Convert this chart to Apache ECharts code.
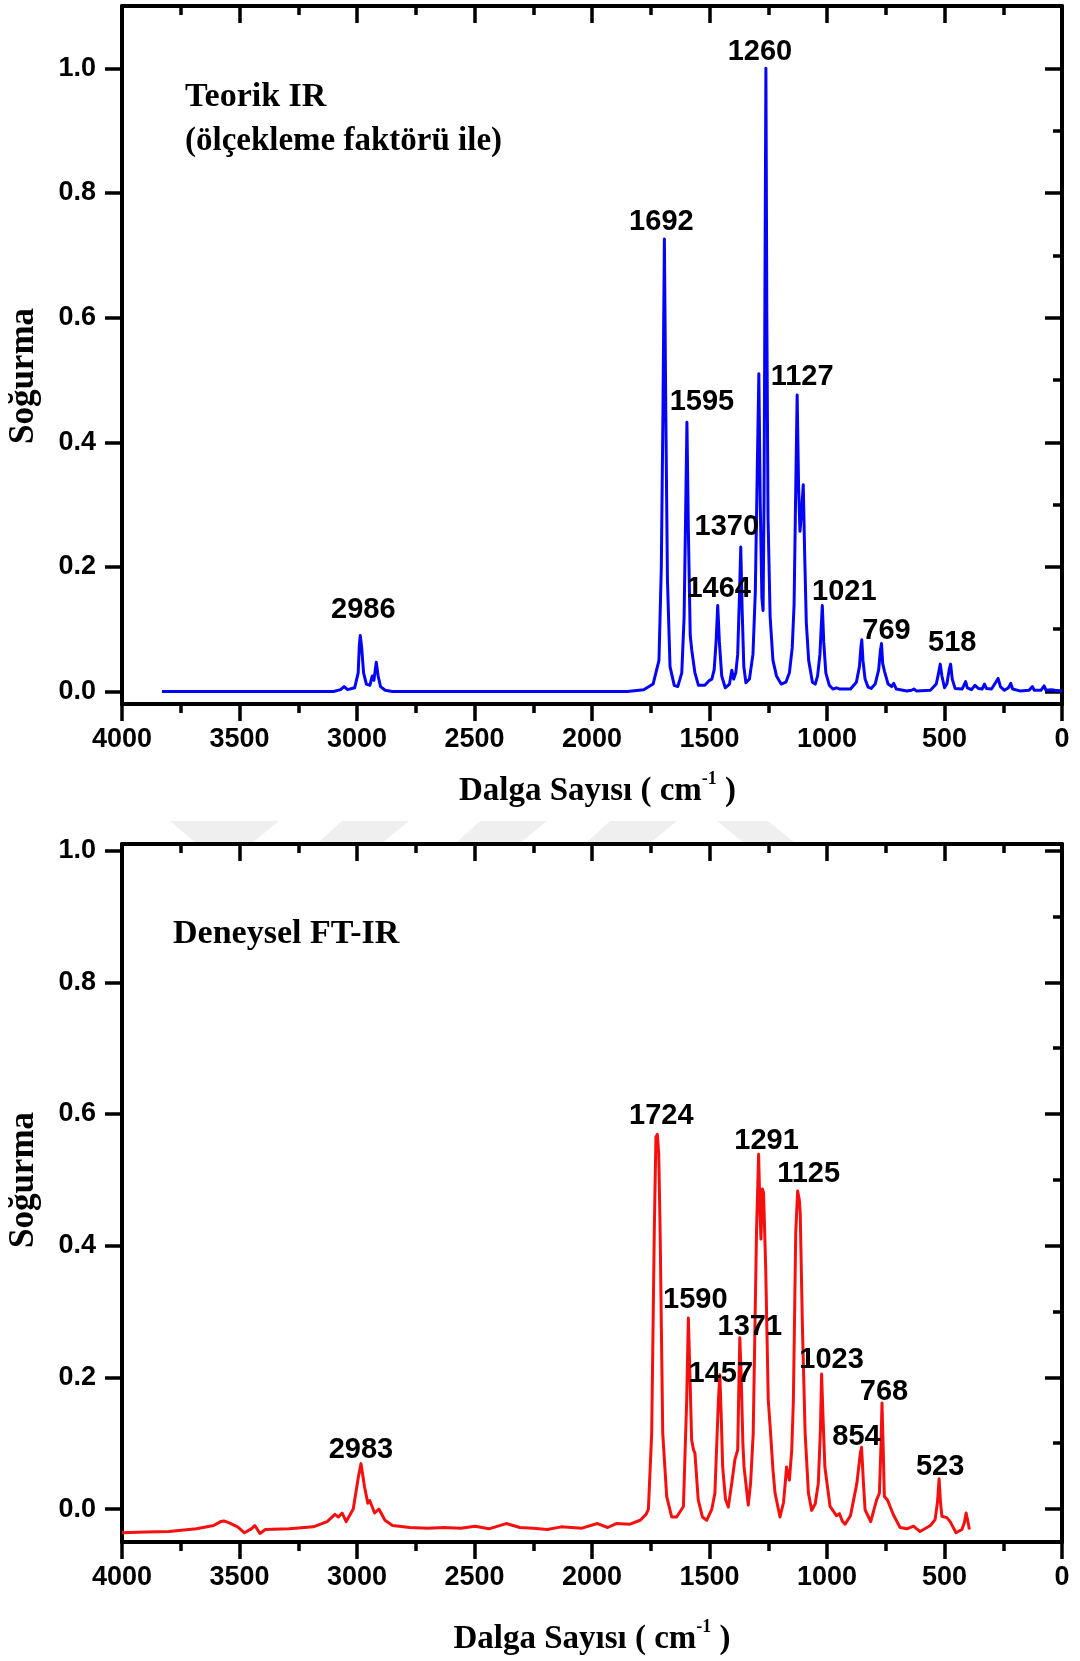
<!DOCTYPE html>
<html>
<head>
<meta charset="utf-8">
<script src="https://cdn.jsdelivr.net/npm/echarts@6/dist/echarts.min.js"></script>
<style>
  html, body { margin: 0; padding: 0; background: #ffffff; }
  #chart { width: 1080px; height: 1661px; }
</style>
</head>
<body>
<div id="chart"></div>
<script>
// ---------------- DATA ----------------
// Theoretical IR spectrum (wavenumber cm-1, absorbance)
const teorikSpectrum = [
  [3830,0.0],[3100,0.0],[3070,0.003],[3055,0.008],[3040,0.003],[3010,0.006],[2995,0.03],[2990,0.075],
  [2986,0.09],[2980,0.07],[2972,0.03],[2960,0.012],[2945,0.01],[2935,0.025],[2928,0.018],[2918,0.047],
  [2910,0.025],[2900,0.008],[2880,0.002],[2850,0.0],[1850,0.0],[1780,0.003],[1740,0.012],[1715,0.05],
  [1705,0.2],[1698,0.45],[1692,0.726],[1686,0.45],[1679,0.18],[1668,0.04],[1650,0.01],[1635,0.008],
  [1618,0.03],[1608,0.12],[1601,0.3],[1596,0.432],[1590,0.26],[1582,0.09],[1575,0.065],[1569,0.068],
  [1562,0.03],[1547,0.01],[1520,0.01],[1500,0.018],[1490,0.02],[1480,0.035],[1472,0.08],[1465,0.138],
  [1458,0.08],[1448,0.025],[1433,0.006],[1415,0.012],[1405,0.034],[1397,0.02],[1388,0.03],[1380,0.06],
  [1372,0.16],[1367,0.232],[1361,0.13],[1354,0.04],[1345,0.014],[1330,0.02],[1315,0.06],[1305,0.16],
  [1297,0.35],[1290,0.51],[1284,0.3],[1277,0.15],[1272,0.13],[1268,0.3],[1264,0.65],[1260,1.0],
  [1256,0.6],[1251,0.28],[1242,0.12],[1230,0.05],[1215,0.025],[1195,0.012],[1175,0.015],[1160,0.03],
  [1148,0.07],[1140,0.14],[1134,0.3],[1127,0.476],[1121,0.33],[1115,0.257],[1108,0.29],[1101,0.332],
  [1095,0.22],[1088,0.11],[1078,0.05],[1062,0.015],[1050,0.012],[1040,0.025],[1030,0.06],[1025,0.1],
  [1020,0.138],[1014,0.08],[1005,0.03],[990,0.01],[975,0.004],[960,0.006],[953,0.009],[945,0.004],
  [900,0.004],[875,0.015],[862,0.04],[856,0.07],[852,0.083],[847,0.05],[838,0.02],[825,0.007],
  [812,0.005],[795,0.012],[780,0.035],[773,0.065],[768,0.077],[763,0.045],[755,0.032],[749,0.03],
  [740,0.012],[725,0.008],[716,0.013],[705,0.004],[660,0.001],[640,0.002],[630,0.004],[620,0.001],
  [560,0.002],[535,0.012],[525,0.03],[518,0.044],[511,0.025],[500,0.006],[490,0.012],[480,0.035],
  [474,0.044],[467,0.02],[455,0.005],[425,0.004],[415,0.012],[410,0.016],[403,0.006],[385,0.003],
  [370,0.01],[363,0.013],[356,0.005],[340,0.004],[330,0.012],[322,0.005],[300,0.004],[285,0.013],
  [272,0.021],[262,0.008],[245,0.002],[228,0.006],[218,0.013],[210,0.004],[180,0.001],[140,0.002],
  [126,0.008],[118,0.002],[90,0.002],[76,0.009],[68,0.002],[45,0.003],[38,0.005],[30,0.002],[0,0.001]
];
// Experimental FT-IR spectrum (wavenumber cm-1, absorbance)
const deneyselSpectrum = [
  [4000,-0.036],[3900,-0.035],[3800,-0.034],[3683,-0.03],[3610,-0.025],[3580,-0.019],[3566,-0.018],
  [3544,-0.021],[3508,-0.027],[3479,-0.036],[3450,-0.03],[3435,-0.025],[3413,-0.037],[3390,-0.031],
  [3288,-0.03],[3186,-0.027],[3127,-0.019],[3094,-0.008],[3079,-0.012],[3063,-0.006],[3046,-0.019],
  [3016,0.0],[2994,0.049],[2983,0.069],[2968,0.034],[2954,0.009],[2946,0.013],[2939,0.011],[2925,-0.006],
  [2907,0.0],[2881,-0.017],[2849,-0.025],[2775,-0.028],[2700,-0.029],[2629,-0.028],[2560,-0.029],
  [2497,-0.026],[2439,-0.03],[2365,-0.022],[2307,-0.028],[2250,-0.029],[2190,-0.031],[2131,-0.027],
  [2043,-0.029],[1977,-0.022],[1933,-0.028],[1897,-0.022],[1838,-0.023],[1795,-0.017],[1770,-0.008],
  [1760,0.0],[1746,0.115],[1735,0.42],[1728,0.565],[1722,0.569],[1716,0.54],[1710,0.42],[1699,0.115],
  [1682,0.019],[1661,-0.012],[1640,-0.012],[1611,0.004],[1597,0.166],[1590,0.29],[1583,0.2],[1576,0.105],
  [1568,0.09],[1562,0.085],[1548,0.014],[1530,-0.012],[1512,-0.017],[1490,0.0],[1477,0.024],[1462,0.166],
  [1456,0.204],[1450,0.14],[1444,0.064],[1432,0.015],[1420,0.003],[1405,0.04],[1392,0.075],[1380,0.09],
  [1376,0.17],[1371,0.26],[1365,0.2],[1358,0.1],[1353,0.064],[1335,0.006],[1325,0.04],[1314,0.115],
  [1300,0.42],[1291,0.539],[1285,0.45],[1281,0.41],[1275,0.486],[1270,0.48],[1261,0.369],[1250,0.166],
  [1240,0.115],[1230,0.06],[1221,0.024],[1200,-0.012],[1185,0.01],[1179,0.034],[1172,0.064],[1165,0.05],
  [1160,0.044],[1150,0.09],[1143,0.166],[1133,0.42],[1125,0.483],[1118,0.47],[1114,0.45],[1104,0.267],
  [1093,0.115],[1079,0.024],[1065,-0.002],[1050,0.008],[1037,0.039],[1028,0.12],[1023,0.205],[1017,0.14],
  [1009,0.064],[987,0.004],[960,-0.01],[947,-0.007],[935,-0.018],[923,-0.023],[900,-0.01],[873,0.039],
  [858,0.085],[853,0.094],[845,0.04],[838,-0.001],[814,-0.019],[789,0.014],[777,0.024],[770,0.1],
  [766,0.161],[760,0.08],[756,0.019],[743,0.014],[717,-0.009],[689,-0.028],[660,-0.03],[632,-0.026],
  [618,-0.03],[604,-0.034],[560,-0.025],[540,-0.016],[530,0.01],[523,0.046],[517,0.01],[511,-0.011],
  [490,-0.013],[476,-0.019],[451,-0.036],[426,-0.031],[415,-0.02],[408,-0.006],[400,-0.02],[394,-0.031]
];
// Annotated peaks: label, peak position, peak absorbance
const teorikPeakLabels = ['2986','1692','1595','1464','1370','1260','1127','1021','769','518'];
const teorikPeakWn     = [2986, 1692, 1596, 1465, 1367, 1260, 1127, 1020, 768, 518];
const teorikPeakAbs    = [0.09, 0.726, 0.432, 0.138, 0.232, 1.0, 0.476, 0.138, 0.077, 0.044];
const deneyselPeakLabels = ['2983','1724','1590','1457','1371','1291','1125','1023','854','768','523'];
const deneyselPeakWn     = [2983, 1722, 1590, 1456, 1371, 1291, 1125, 1023, 853, 766, 523];
const deneyselPeakAbs    = [0.069, 0.569, 0.29, 0.204, 0.26, 0.539, 0.483, 0.205, 0.094, 0.161, 0.046];
// Axis ticks
const xTickStep = 500;
const yMajorTicks = [0, 0.2, 0.4, 0.6, 0.8, 1.0];
const yMinorTicks = [0.1, 0.3, 0.5, 0.7, 0.9];
const panelTitles = [['Teorik IR', '(ölçekleme faktörü ile)'], ['Deneysel FT-IR']];
const xAxisTitle = 'Dalga Sayısı ( cm';
const xAxisTitleSup = '-1';
const yAxisTitle = 'Soğurma';

// ---------------- LAYOUT / STYLE ----------------
const SANS = '"Liberation Sans", Arial, sans-serif';
const SERIF = '"Liberation Serif", "Times New Roman", serif';
const grids = [
  { left: 122, top: 6, width: 940, height: 698, ymin: -0.02, ymax: 1.1, nameGap: 66, xPad: [0, 0, 0, 11], yPad: [0, 42, 0, 0] },
  { left: 122, top: 844, width: 940, height: 698, ymin: -0.05, ymax: 1.01, nameGap: 76, xPad: [0, 0, 0, 0], yPad: [0, 0, 0, 26] }
];
// label offsets (px) relative to the peak points
const teorikLabelOffsets = [[3,-25],[-3,-17],[15,-20],[1,-17],[-14,-20],[-6,-16],[5,-18],[22,-14],[5,-13],[12,-21]];
const deneyselLabelOffsets = [[0,-14],[4,-18],[7,-18],[1,-1],[10,-11],[8,-13],[11,-17],[10,-14],[-5,-10],[2,-11],[1,-12]];

const AXW = 4, TKW = 3.5;
const xAxes = [], yAxes = [];
grids.forEach((g, gi) => {
  const base = {
    gridIndex: gi, type: 'value', inverse: true, min: 0, max: 4000, interval: xTickStep,
    splitLine: { show: false },
    axisLine: { show: true, onZero: false, lineStyle: { color: '#000', width: AXW } },
    minorTick: { show: true, splitNumber: 2, length: 9, lineStyle: { color: '#000', width: TKW } },
    minorSplitLine: { show: false }
  };
  xAxes.push(Object.assign({}, base, {
    position: 'bottom',
    axisTick: { show: true, inside: false, length: 17, lineStyle: { color: '#000', width: TKW } },
    axisLabel: { show: true, margin: 22, color: '#000', fontFamily: SANS, fontWeight: 'bold', fontSize: 27,
      formatter: v => String(v) },
    name: '{t|' + xAxisTitle + '}{s|' + xAxisTitleSup + '}{t| )}',
    nameLocation: 'middle', nameGap: g.nameGap,
    nameTextStyle: {
      padding: g.xPad,
      rich: {
        t: { fontFamily: SERIF, fontWeight: 'bold', fontSize: 33, color: '#000', lineHeight: 38, verticalAlign: 'bottom' },
        s: { fontFamily: SERIF, fontWeight: 'bold', fontSize: 18, color: '#000', lineHeight: 18, verticalAlign: 'top' }
      }
    }
  }));
  xAxes.push(Object.assign({}, base, {
    position: 'top',
    axisTick: { show: true, inside: true, length: 17, lineStyle: { color: '#000', width: TKW } },
    axisLabel: { show: false }
  }));
  const ybase = { gridIndex: gi, type: 'value', min: g.ymin, max: g.ymax, splitLine: { show: false } };
  yAxes.push(Object.assign({}, ybase, {
    position: 'left',
    axisLine: { show: true, onZero: false, lineStyle: { color: '#000', width: AXW } },
    axisTick: { show: true, inside: false, length: 17, customValues: yMajorTicks, lineStyle: { color: '#000', width: TKW } },
    axisLabel: { show: true, customValues: yMajorTicks, margin: 26, color: '#000', fontFamily: SANS, fontWeight: 'bold', fontSize: 27,
      formatter: v => Number(v).toFixed(1) },
    name: yAxisTitle, nameLocation: 'middle', nameGap: 81, nameRotate: 90,
    nameTextStyle: { fontFamily: SERIF, fontWeight: 'bold', fontSize: 35, color: '#000', padding: g.yPad }
  }));
  yAxes.push(Object.assign({}, ybase, {
    position: 'left', offset: 0,
    axisLine: { show: false },
    axisTick: { show: true, inside: false, length: 9, customValues: yMinorTicks, lineStyle: { color: '#000', width: TKW } },
    axisLabel: { show: false }
  }));
  yAxes.push(Object.assign({}, ybase, {
    position: 'right',
    axisLine: { show: true, onZero: false, lineStyle: { color: '#000', width: AXW } },
    axisTick: { show: true, inside: true, length: 17, customValues: yMajorTicks, lineStyle: { color: '#000', width: TKW } },
    axisLabel: { show: false }
  }));
  yAxes.push(Object.assign({}, ybase, {
    position: 'right', offset: 0,
    axisLine: { show: false },
    axisTick: { show: true, inside: true, length: 9, customValues: yMinorTicks, lineStyle: { color: '#000', width: TKW } },
    axisLabel: { show: false }
  }));
});

function peakSeries(gi, labels, wn, abs, offsets) {
  return {
    type: 'scatter', xAxisIndex: gi * 2, yAxisIndex: gi * 4, silent: true, z: 5,
    symbolSize: 1, itemStyle: { color: 'rgba(0,0,0,0)', opacity: 1 },
    data: labels.map((t, i) => ({
      value: [wn[i], abs[i]],
      label: { show: true, formatter: t, position: 'inside', align: 'center', verticalAlign: 'middle', opacity: 1,
        offset: offsets[i], color: '#000', fontFamily: SANS, fontWeight: 'bold', fontSize: 29 }
    }))
  };
}

const watermark = [
  [[170,821],[279,821],[252,843],[196,843]],
  [[342,821],[409,821],[382,843],[318,843]],
  [[480,821],[547,821],[520,843],[456,843]],
  [[610,821],[677,821],[650,843],[586,843]],
  [[717,821],[768,821],[795,843],[744,843]]
];

const graphics = [];
watermark.forEach(p => graphics.push({ type: 'polygon', shape: { points: p }, style: { fill: '#efefef' }, z: -10, silent: true }));
graphics.push({ type: 'text', x: 185, y: 97, style: { text: panelTitles[0][0], fill: '#000', font: 'bold 34px ' + SERIF, verticalAlign: 'middle' } });
graphics.push({ type: 'text', x: 185, y: 141, style: { text: panelTitles[0][1], fill: '#000', font: 'bold 33px ' + SERIF, verticalAlign: 'middle' } });
graphics.push({ type: 'text', x: 173, y: 934, style: { text: panelTitles[1][0], fill: '#000', font: 'bold 34px ' + SERIF, verticalAlign: 'middle' } });

const option = {
  backgroundColor: '#ffffff',
  animation: false,
  grid: grids.map(g => ({ left: g.left, top: g.top, width: g.width, height: g.height, containLabel: false, outerBoundsMode: 'none' })),
  xAxis: xAxes,
  yAxis: yAxes,
  graphic: graphics,
  series: [
    { type: 'line', xAxisIndex: 0, yAxisIndex: 0, data: teorikSpectrum, showSymbol: false, symbol: 'none',
      lineStyle: { color: '#0505f5', width: 3, join: 'round' }, z: 3 },
    { type: 'line', xAxisIndex: 2, yAxisIndex: 4, data: deneyselSpectrum, showSymbol: false, symbol: 'none',
      lineStyle: { color: '#f51010', width: 3, join: 'round' }, z: 3 },
    peakSeries(0, teorikPeakLabels, teorikPeakWn, teorikPeakAbs, teorikLabelOffsets),
    peakSeries(1, deneyselPeakLabels, deneyselPeakWn, deneyselPeakAbs, deneyselLabelOffsets)
  ]
};
const chart = echarts.init(document.getElementById('chart'), null, { renderer: 'canvas' });
chart.setOption(option);
</script>
</body>
</html>
